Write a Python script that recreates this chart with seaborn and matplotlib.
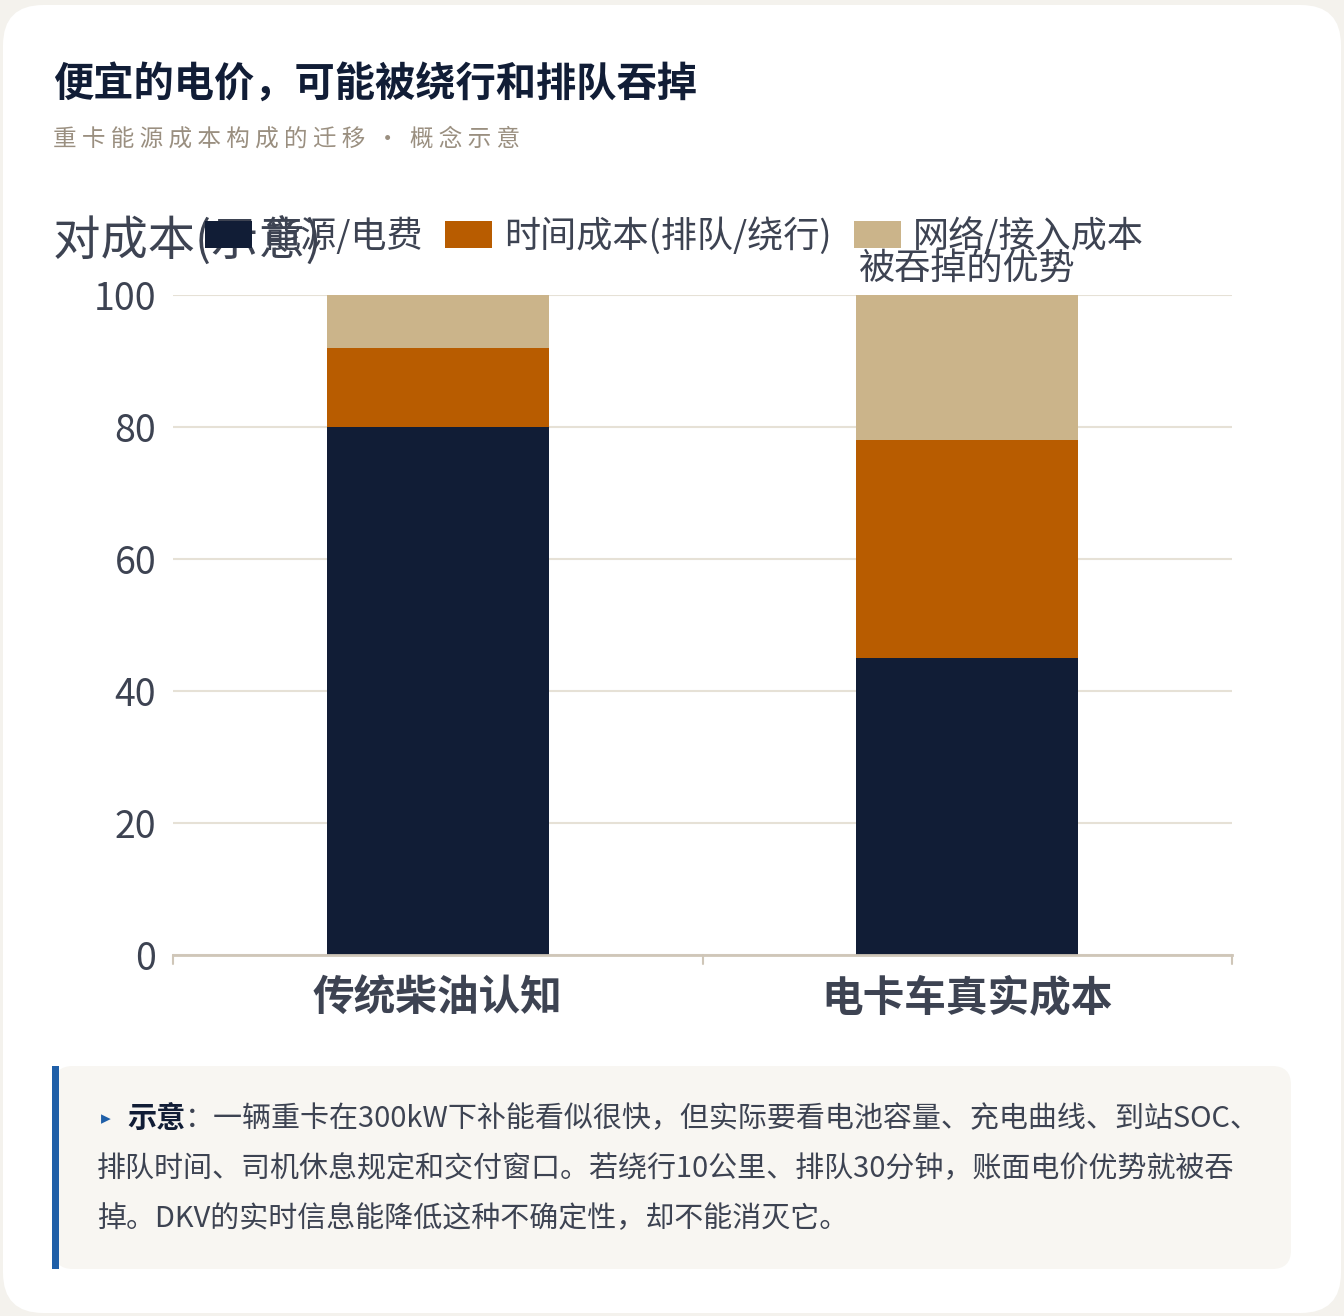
import matplotlib
matplotlib.use("Agg")
import matplotlib.pyplot as plt
from matplotlib.patches import FancyBboxPatch, Rectangle
import seaborn as sns

# data
categories = ['传统柴油认知', '电卡车真实成本']
energy = [80, 45]
time_cost = [12, 33]
network = [8, 22]
series_labels = ['能源/电费', '时间成本(排队/绕行)', '网络/接入成本']
series_colors = ['#111d36', '#b85c00', '#cbb48a']
yticks = [0, 20, 40, 60, 80, 100]

sns.set_theme(style='white')
plt.rcParams['font.family'] = ['Noto Sans CJK SC', 'DejaVu Sans']

W, H = 1344, 1316
fig = plt.figure(figsize=(W / 100, H / 100), dpi=100, facecolor='#f4f2ed')

# white card behind everything
card = FancyBboxPatch((3 / W, 3 / H), (W - 6) / W, (H - 8) / H,
                      boxstyle='round,pad=0,rounding_size=0.03',
                      transform=fig.transFigure, facecolor='white',
                      edgecolor='none', zorder=-2, mutation_aspect=W / H)
fig.patches.append(card)

fig.text(53 / W, 1 - 84 / H, '便宜的电价，可能被绕行和排队吞掉', fontsize=29,
         fontweight='bold', color='#111d36', va='center', ha='left')
fig.text(53 / W, 1 - 139 / H, ' '.join('重卡能源成本构成的迁移') + '  ·  ' + ' '.join('概念示意'),
         fontsize=17, color='#9a8f80', va='center', ha='left')

ax = fig.add_axes([173 / W, 1 - 955 / H, (1232 - 173) / W, (955 - 295) / H])
ax.set_facecolor('none')

bottom2 = [a + b for a, b in zip(energy, time_cost)]
sns.barplot(x=categories, y=energy, color=series_colors[0], width=0.42,
            ax=ax, saturation=1, linewidth=0)
sns.barplot(x=categories, y=time_cost, bottom=energy, color=series_colors[1],
            width=0.42, ax=ax, saturation=1, linewidth=0)
sns.barplot(x=categories, y=network, bottom=bottom2, color=series_colors[2],
            width=0.42, ax=ax, saturation=1, linewidth=0)

ax.set_ylim(0, 100)
ax.set_xlim(-0.5, 1.5)
ax.set_yticks(yticks)
ax.yaxis.grid(True, color='#e6e1d6', linewidth=1.5)
ax.set_axisbelow(True)
for s in ['top', 'right', 'left']:
    ax.spines[s].set_visible(False)
ax.spines['bottom'].set_color('#cfc6b8')
ax.spines['bottom'].set_linewidth(2)
ax.set_xticks([0, 1])
ax.set_xticklabels(categories)
ax.tick_params(axis='y', labelsize=27, colors='#3d4352', length=0, pad=12)
ax.tick_params(axis='x', labelsize=30, colors='#3d4352', length=0, pad=16)
for lbl in ax.get_xticklabels():
    lbl.set_fontweight('black')
for xv in [-0.5, 0.5, 1.5]:
    ax.plot([xv, xv], [0, -1.3], color='#cfc6b8', lw=1.5, clip_on=False)
ax.set_xlabel('')
ax.set_ylabel('')

# y label drawn horizontally at top-left, clipped on the left like the reference
ylab = fig.text(7 / W, 1 - 242 / H, '相对成本(示意)', fontsize=34, color='#3d4352',
                va='center', ha='left')
clip = Rectangle((52 / W, 0), 1, 1, transform=fig.transFigure)
ylab.set_clip_path(clip)

handles = [FancyBboxPatch((0, 0), 1, 1, boxstyle='round,pad=0,rounding_size=0.2',
                          facecolor=c, edgecolor='none') for c in series_colors]
fig.legend(handles, series_labels, loc='center left',
           bbox_to_anchor=(205 / W, 1 - 236 / H), ncol=3, frameon=False,
           fontsize=26, labelcolor='#3d4352', handlelength=1.3, handleheight=0.75,
           columnspacing=0.6, handletextpad=0.35, borderaxespad=0, borderpad=0)

ax.text(1.0, 101.2, '被吞掉的优势', fontsize=26, color='#3d4352', ha='center', va='bottom')

# note box
box = FancyBboxPatch((54 / W, 1 - 1269 / H), (1291 - 54) / W, (1269 - 1066) / H,
                     boxstyle='round,pad=0,rounding_size=0.014',
                     transform=fig.transFigure, facecolor='#f8f6f2',
                     edgecolor='none', mutation_aspect=W / H)
fig.patches.append(box)
fig.patches.append(Rectangle((52 / W, 1 - 1269 / H), 7 / W, (1269 - 1066) / H,
                             transform=fig.transFigure, facecolor='#1f5fa8',
                             edgecolor='none'))

fig.text(101 / W, 1 - 1119 / H, '▸', fontsize=14, color='#1f5fa8',
         va='center', ha='left', family=['DejaVu Sans'])
fig.text(127 / W, 1 - 1119 / H, '示意', fontsize=21, fontweight='bold',
         color='#111d36', va='center', ha='left')
fig.text(185 / W, 1 - 1119 / H,
         '：一辆重卡在300kW下补能看似很快，但实际要看电池容量、充电曲线、到站SOC、',
         fontsize=20.9, color='#3d4352', va='center', ha='left')
fig.text(97 / W, 1 - 1169 / H,
         '排队时间、司机休息规定和交付窗口。若绕行10公里、排队30分钟，账面电价优势就被吞',
         fontsize=20.9, color='#3d4352', va='center', ha='left')
fig.text(97 / W, 1 - 1219 / H,
         '掉。DKV的实时信息能降低这种不确定性，却不能消灭它。',
         fontsize=20.9, color='#3d4352', va='center', ha='left')

fig.savefig('out.png', dpi=100, facecolor=fig.get_facecolor())
